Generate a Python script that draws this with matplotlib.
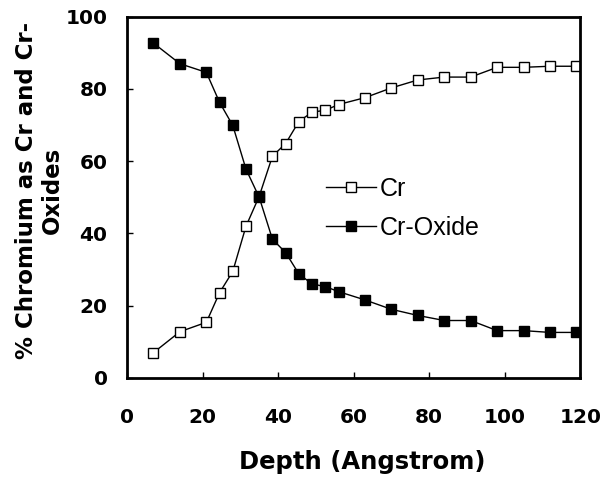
import matplotlib
matplotlib.use('Agg')
from matplotlib import pyplot as plt

depth = [7, 14, 21, 24.5, 28, 31.5, 35, 38.5, 42, 45.5, 49, 52.5, 56,
         63, 70, 77, 84, 91, 98, 105, 112, 119]
cr = [7.0, 12.8, 15.4, 23.6, 29.5, 42.0, 50.3, 61.4, 64.9, 71.0, 73.6, 74.1, 75.7,
      77.6, 80.3, 82.5, 83.3, 83.3, 86.0, 86.0, 86.3, 86.3]
cr_oxide = [92.7, 87.0, 84.6, 76.3, 69.9, 57.8, 50.0, 38.4, 34.7, 28.8, 26.0, 25.3, 23.9,
            21.6, 19.0, 17.3, 15.9, 15.9, 13.1, 13.1, 12.6, 12.6]

plt.rcParams['font.family'] = ['DejaVu Sans']

fig = plt.figure(figsize=(6.05, 4.79), dpi=100)
axes = fig.add_axes([0.21, 0.211, 0.749, 0.754])

axes.plot(depth, cr, color='black', linewidth=1.0, marker='s', markersize=6.5,
          markerfacecolor='white', markeredgecolor='black', markeredgewidth=1.0,
          label='Cr')
axes.plot(depth, cr_oxide, color='black', linewidth=1.0, marker='s', markersize=6.5,
          markerfacecolor='black', markeredgecolor='black', label='Cr-Oxide')

axes.set_xlim(0, 120)
axes.set_ylim(0, 100)
axes.set_xticks(range(0, 121, 20))
axes.set_yticks(range(0, 101, 20))
for side in axes.spines.values():
    side.set_linewidth(2.0)
axes.tick_params(direction='in', length=4, width=1, labelsize=14.5, top=False, right=False)
axes.tick_params(axis='x', pad=22)
axes.tick_params(axis='y', pad=14)
for lab in axes.get_xticklabels() + axes.get_yticklabels():
    lab.set_fontweight('bold')

axes.set_xlabel('Depth (Angstrom)', fontsize=17.5, fontweight='bold')
axes.xaxis.set_label_coords(0.519, -0.2)
axes.set_ylabel('% Chromium as Cr and Cr-\nOxides', fontsize=16.5, fontweight='bold',
                linespacing=1.15)
axes.yaxis.set_label_coords(-0.14, 0.518)

axes.legend(loc='upper left', bbox_to_anchor=(0.411, 0.592), frameon=False,
            borderpad=0, handlelength=2.0, handletextpad=0.15, labelspacing=0.62,
            prop={'family': 'Liberation Sans', 'size': 18})

fig.savefig('out.png', dpi=100)
